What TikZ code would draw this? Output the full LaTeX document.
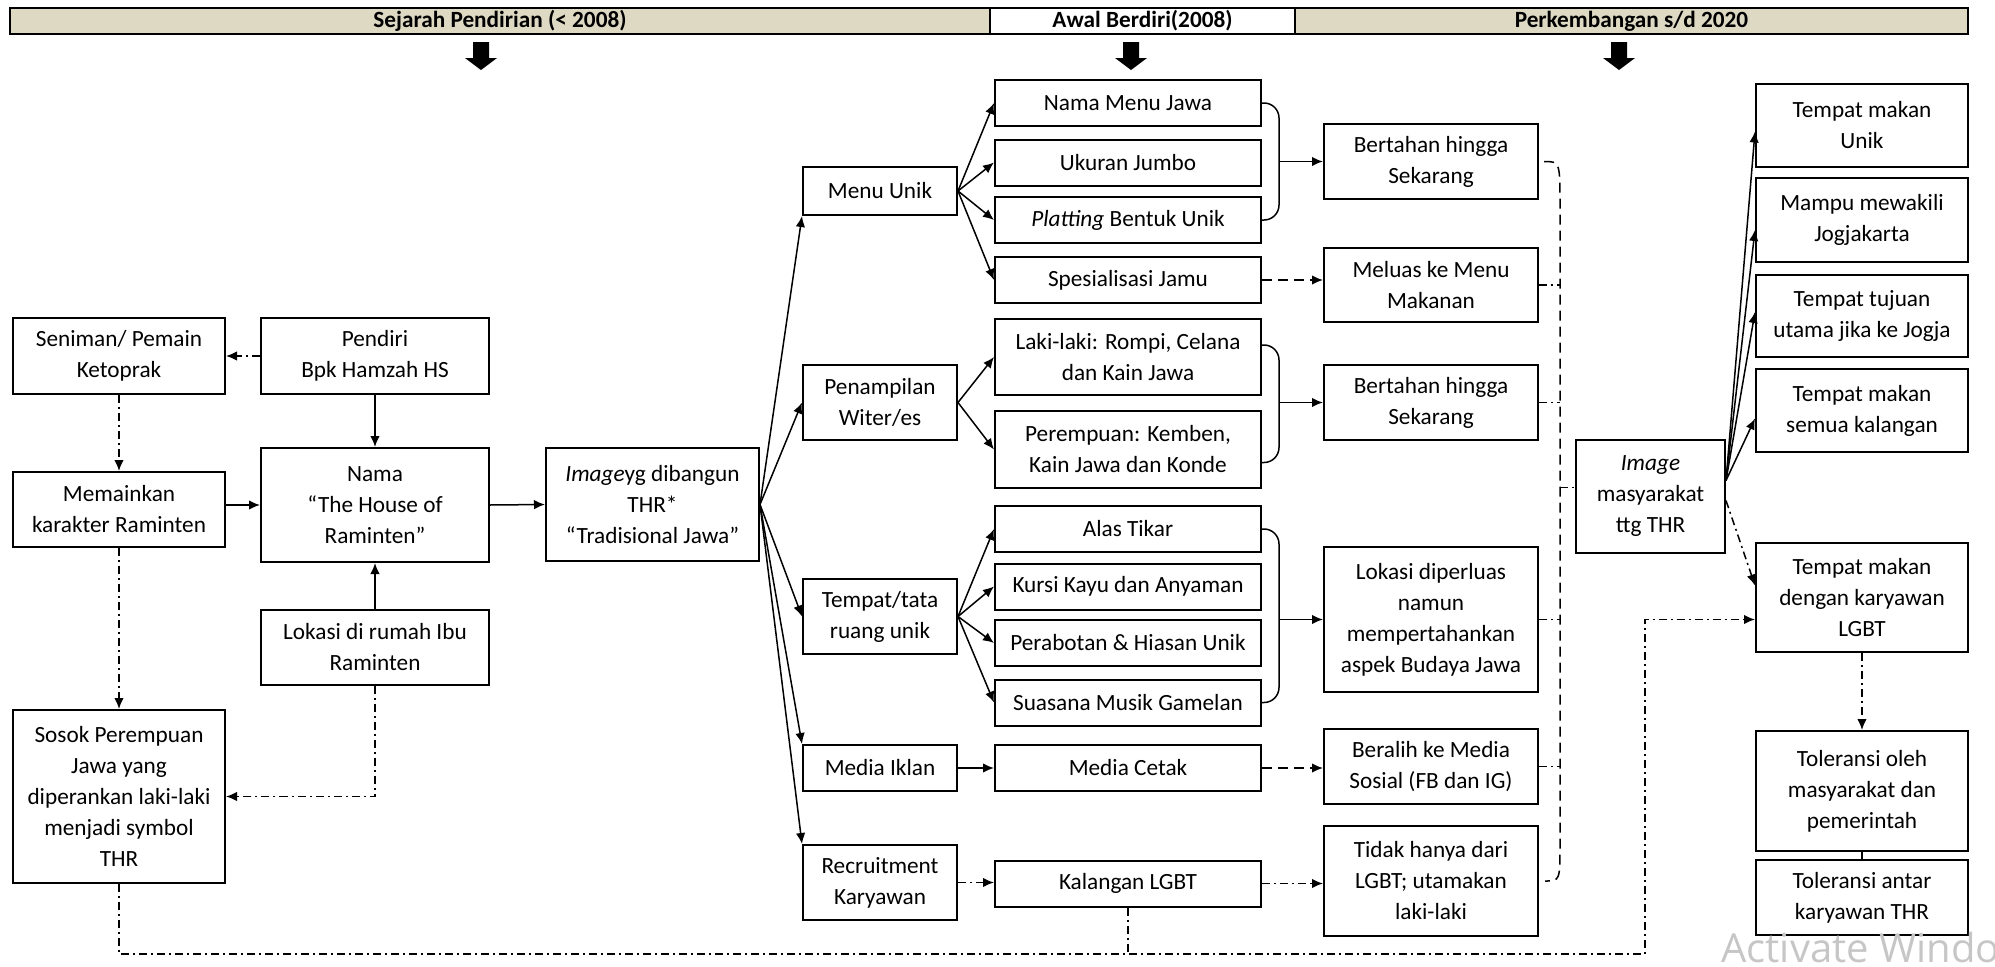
\documentclass[tikz,border=0pt]{standalone}
\usepackage{fontspec}
\setmainfont{Carlito}
\newfontfamily\wmfont{Open Sans}
\usetikzlibrary{arrows.meta,calc}
\definecolor{hdtan}{HTML}{DDD9C3}
\begin{document}
\begin{tikzpicture}[x=0.4pt,y=-0.4pt,
  box/.style 2 args={draw, line width=0.8pt, align=center, inner sep=0pt,
    minimum width=#1*0.4pt, minimum height=#2*0.4pt,
    font=\fontsize{9.3}{12.4}\selectfont},
  hdr/.style={draw, line width=0.8pt, inner sep=0pt, minimum width=#1*0.4pt,
    minimum height=10.4pt, font=\fontsize{9.3}{12.4}\selectfont\bfseries},
  con/.style={line width=0.6pt},
  arr/.style={con, -{Latex[length=4.4pt,width=3.8pt]}},
  dd/.style={dash pattern=on 3.2pt off 1.6pt on 0.8pt off 1.6pt},
  dsh/.style={dash pattern=on 4pt off 2.4pt}]
  \useasboundingbox (0,0) rectangle (1995,967);
  \node[hdr=980, fill=hdtan] (hd1) at (500,21) {Sejarah Pendirian (< 2008)};
  \node[hdr=305] (hd2) at (1142.5,21) {Awal Berdiri(2008)};
  \node[hdr=673, fill=hdtan] (hd3) at (1631.5,21) {Perkembangan s/d 2020};
  \foreach \c in {481,1131,1619}
    \fill (\c-8,42) -- (\c+8,42) -- (\c+8,58) -- (\c+16,58) -- (\c,70) -- (\c-16,58) -- (\c-8,58) -- cycle;

  \node[box={212}{76}] (sen) at (119,356) {Seniman/ Pemain\\Ketoprak};
  \node[box={228}{76}] (pend) at (375,356) {Pendiri\\Bpk Hamzah HS};
  \node[box={212}{75}] (mem) at (119,509.5) {Memainkan\\karakter Raminten};
  \node[box={228}{114}] (nama) at (375,505) {Nama\\“The House of\\Raminten”};
  \node[box={228}{75}] (lok) at (375,647.5) {Lokasi di rumah Ibu\\Raminten};
  \node[box={212}{173}] (sos) at (119,796.5) {Sosok Perempuan\\Jawa yang\\diperankan laki-laki\\menjadi symbol\\THR};
  \node[box={213}{113}] (img) at (652.5,504.5) {\textit{Image}yg dibangun\\THR*\\“Tradisional Jawa”};

  \node[box={154}{48}] (mu) at (880,191) {Menu Unik};
  \node[box={154}{75}] (pen) at (880,402.5) {Penampilan\\Witer/es};
  \node[box={154}{75}] (tem) at (880,616.5) {Tempat/tata\\ruang unik};
  \node[box={154}{46}] (med) at (880,768) {Media Iklan};
  \node[box={154}{75}] (rec) at (880,882.5) {Recruitment\\Karyawan};

  \foreach \n/\y/\t in {nmj/103/Nama Menu Jawa, uk/162.5/Ukuran Jumbo,
      plat/220/{\textit{Platting} Bentuk Unik}, spes/280/Spesialisasi Jamu,
      alas/529/Alas Tikar, kur/586.5/Kursi Kayu dan Anyaman,
      perab/643/Perabotan \& Hiasan Unik, suas/702.5/Suasana Musik Gamelan,
      mc/768/Media Cetak, kal/883.5/Kalangan LGBT}
    \node[box={266}{46}] (\n) at (1128,\y) {\t};
  \node[box={266}{76}] (laki) at (1128,357) {Laki-laki: Rompi, Celana\\dan Kain Jawa};
  \node[box={266}{77}] (pere) at (1128,449.5) {Perempuan: Kemben,\\Kain Jawa dan Konde};

  \node[box={214}{75}] (bt1) at (1431,161.5) {Bertahan hingga\\Sekarang};
  \node[box={214}{74}] (mel) at (1431,285) {Meluas ke Menu\\Makanan};
  \node[box={214}{75}] (bt2) at (1431,402.5) {Bertahan hingga\\Sekarang};
  \node[box={214}{145}] (lok2) at (1431,619.5) {Lokasi diperluas\\namun\\mempertahankan\\aspek Budaya Jawa};
  \node[box={214}{75}] (ber) at (1431,766.5) {Beralih ke Media\\Sosial (FB dan IG)};
  \node[box={214}{110}] (tid) at (1431,881) {Tidak hanya dari\\LGBT; utamakan\\laki-laki};

  \node[box={149}{113}] (imgm) at (1650.5,496.5) {\textit{Image}\\masyarakat\\ttg THR};
  \node[box={212}{83}] (tmu) at (1862,125.5) {Tempat makan\\Unik};
  \node[box={212}{84}] (mam) at (1862,220) {Mampu mewakili\\Jogjakarta};
  \node[box={212}{82}] (tuj) at (1862,316) {Tempat tujuan\\utama jika ke Jogja};
  \node[box={212}{83}] (sem) at (1862,410.5) {Tempat makan\\semua kalangan};
  \node[box={212}{109}] (deng) at (1862,597.5) {Tempat makan\\dengan karyawan\\LGBT};
  \node[box={212}{120}] (tol1) at (1862,791) {Toleransi oleh\\masyarakat dan\\pemerintah};
  \node[box={212}{75}] (tol2) at (1862,897.5) {Toleransi antar\\karyawan THR};

  \draw[arr, dd] (pend.west) -- (sen.east);
  \draw[arr] (pend.south) -- (nama.north);
  \draw[arr, dd] (sen.south) -- (mem.north);
  \draw[arr] (mem.east |- nama.west) -- (nama.west);
  \draw[arr] (lok.north) -- (nama.south);
  \draw[arr, dd] (mem.south) -- (sos.north);
  \draw[arr, dd] (lok.south) |- (sos.east);
  \draw[arr] (nama.east) -- (img.west);

  \foreach \t in {mu.south west, pen.west, tem.west, med.north west, rec.north west}
    \draw[arr] (img.east) -- (\t);
  \foreach \t in {nmj, uk, plat, spes}
    \draw[arr] (mu.east) -- (\t.west);
  \foreach \t in {laki, pere}
    \draw[arr] (pen.east) -- (\t.west);
  \foreach \t in {alas, kur, perab, suas}
    \draw[arr] (tem.east) -- (\t.west);
  \draw[arr] (med.east) -- (mc.west);
  \draw[arr, dd] (rec.east) -- (rec.east -| kal.west);

  \draw[con, rounded corners=6] (nmj.east) -- ++(17,0) coordinate (b1) |- (plat.east);
  \draw[arr] (b1 |- bt1.west) -- (bt1.west);
  \draw[con, rounded corners=6] ($(laki.east)+(0,-12)$) -- ++(17,0) coordinate (b2) |- ($(pere.east)+(0,13)$);
  \draw[arr] (b2 |- bt2.west) -- (bt2.west);
  \draw[con, rounded corners=6] (alas.east) -- ++(17,0) coordinate (b3) |- (suas.east);
  \draw[arr] (b3 |- lok2.west) -- (lok2.west);
  \draw[arr, dsh] (spes.east) -- (spes.east -| mel.west);
  \draw[arr, dsh] (mc.east) -- (mc.east -| ber.west);
  \draw[arr, dd] (kal.east) -- (kal.east -| tid.west);

  \coordinate (bx) at (1560,207);
  \draw[con, dsh] ($(bt1.east)+(5,0)$) .. controls (bx |- bt1.east) .. (bx)
    -- (1560,843) .. controls (bx |- tid.east) .. ($(tid.east)+(6,0)$);
  \foreach \n in {mel, bt2, lok2, ber}
    \draw[con, dd] (\n.east) -- (\n.east -| bx);
  \draw[con, dd] (bx |- imgm.west) ++(0,-9) -- ($(imgm.west)+(0,-9)$);

  \coordinate (im0) at ($(imgm.east)+(0,-16)$);
  \foreach \n/\d in {tmu/6, mam/10, tuj/-4, sem/8}
    \draw[arr] (im0) -- ($(\n.west)+(0,\d)$);
  \draw[arr, dd] ($(imgm.east)+(0,4)$) -- ($(deng.west)+(0,-12)$);
  \draw[arr, dd] (deng.south) -- (tol1.north);
  \draw[con] (tol1.south) -- (tol2.north);

  \coordinate (bl) at (1645,954);
  \draw[arr, dd] (sos.south) |- (bl) |- ($(deng.west)+(0,22)$);
  \draw[con, dd] (kal.south) -- (kal.south |- bl);

  \begin{scope}
    \clip (0,0) rectangle (1995,967);
    \node[anchor=base west, inner sep=0pt, text=gray!45, font=\wmfont\fontsize{16}{16}\selectfont] (wm) at (1721,962) {Activate Windows};
  \end{scope}
\end{tikzpicture}
\end{document}
